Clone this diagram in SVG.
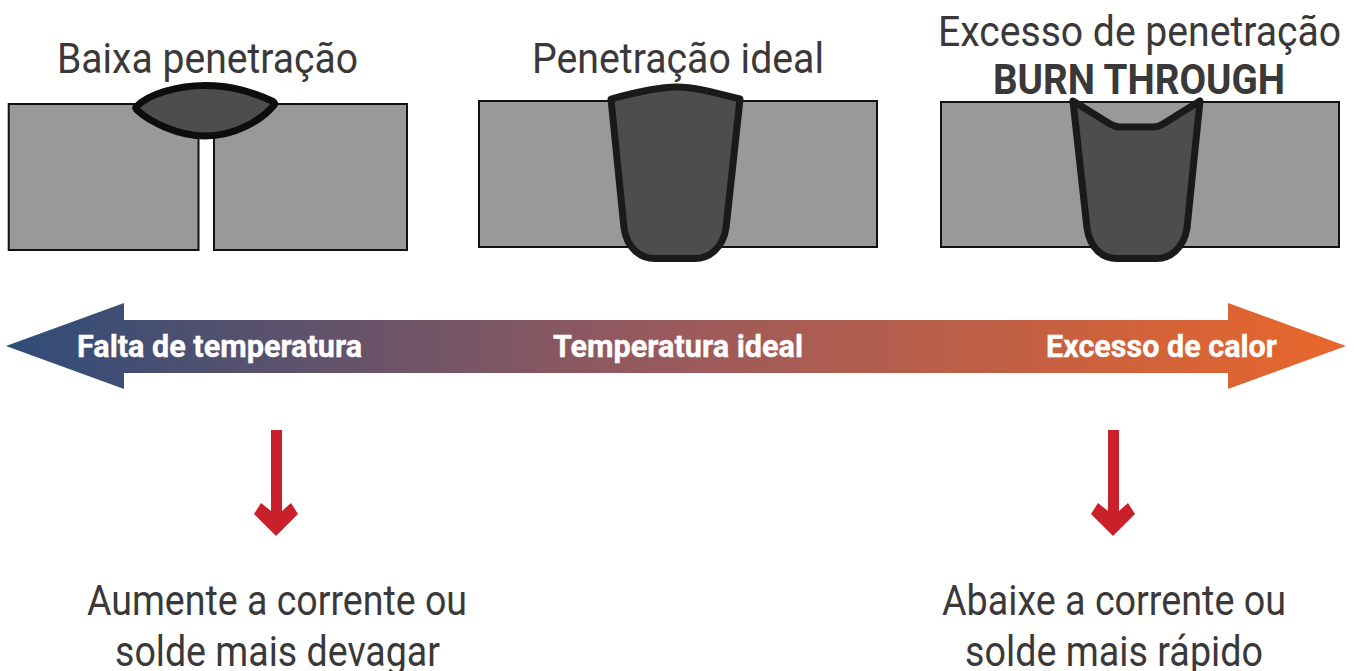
<svg xmlns="http://www.w3.org/2000/svg" width="1354" height="671" viewBox="0 0 1354 671">
<defs>
<linearGradient id="g" x1="6" y1="0" x2="1346" y2="0" gradientUnits="userSpaceOnUse"><stop offset="0" stop-color="#2f4c78"/><stop offset="0.5" stop-color="#9a5a5c"/><stop offset="1" stop-color="#e9662b"/></linearGradient>
</defs>
<style>
.plate{fill:#999;stroke:#111;stroke-width:2}
.weld{fill:#4d4d4d;stroke:#1a1a1a;stroke-width:7;stroke-linejoin:round}
.t{font-family:Roboto,"Liberation Sans",sans-serif;font-size:42px;fill:#3a3839;text-anchor:middle}
.h{font-weight:700;font-size:43px}
.b{font-family:Roboto,"Liberation Sans",sans-serif;font-size:32px;font-weight:700;fill:#fff;text-anchor:middle;stroke:#fff;stroke-width:.4}
.down{fill:#c9202c}
</style>
<rect width="1354" height="671" fill="#fff"/>
<g id="baixa">
<rect class="plate" x="8.7" y="104" width="189.8" height="146"/>
<rect class="plate" x="214" y="104" width="193" height="146"/>
<path class="weld" style="stroke:#0d0d0d" d="M136 107C148 94 178 85.500 205 85.500C232 85.500 252 92 272 101Q276 103 274 105C262 120 235 136 205 136C178 136 150 122 137 110Q135 108 136 107Z"/>
<text class="t" x="207.500" y="73" textLength="301" lengthAdjust="spacingAndGlyphs">Baixa penetração</text>
</g>
<g id="ideal">
<rect class="plate" x="479" y="101" width="398" height="146"/>
<path class="weld" d="M611 99C640 91 660 87 677 87C695 87 712 92 740 99L726 228C723 248 709 258.500 695 258.500H655C640 258.500 627 248 624 228Z"/>
<text class="t" x="678" y="73" textLength="292" lengthAdjust="spacingAndGlyphs">Penetração ideal</text>
</g>
<g id="excesso">
<rect class="plate" x="941" y="102" width="398" height="145"/>
<path class="weld" d="M1073 101L1110 124Q1115 127 1120 127H1153Q1158 127 1163 124L1200 101L1187 228C1184 248 1170 258.500 1157 258.500H1117C1102 258.500 1090 248 1087 228Z"/>
<text class="t" x="1139.500" y="45.500" textLength="403" lengthAdjust="spacingAndGlyphs">Excesso de penetração</text>
<text class="t h" x="1139" y="94" textLength="292" lengthAdjust="spacingAndGlyphs">BURN THROUGH</text>
</g>
<g id="escala">
<path d="M6 346L124 303V320H1228V303L1346 346L1228 389V373H124V389Z" fill="url(#g)"/>
<text class="b" x="219.500" y="357" textLength="285" lengthAdjust="spacingAndGlyphs">Falta de temperatura</text>
<text class="b" x="678" y="357" textLength="250" lengthAdjust="spacingAndGlyphs">Temperatura ideal</text>
<text class="b" x="1161.500" y="357" textLength="231" lengthAdjust="spacingAndGlyphs">Excesso de calor</text>
</g>
<g id="connectors">
<path class="down" d="M271 430H282V511L291 503L298 514L276 536L254 514L261 503L271 511Z"/>
<path class="down" d="M1108 430H1119V511L1128 503L1135 514L1113 536L1091 514L1098 503L1108 511Z"/>
</g>
<g id="acao-esq">
<text class="t" x="277" y="615" textLength="380" lengthAdjust="spacingAndGlyphs">Aumente a corrente ou</text>
<text class="t" x="277.500" y="666" textLength="325" lengthAdjust="spacingAndGlyphs">solde mais devagar</text>
</g>
<g id="acao-dir">
<text class="t" x="1114" y="615" textLength="344" lengthAdjust="spacingAndGlyphs">Abaixe a corrente ou</text>
<text class="t" x="1114" y="666" textLength="298" lengthAdjust="spacingAndGlyphs">solde mais rápido</text>
</g>
</svg>
